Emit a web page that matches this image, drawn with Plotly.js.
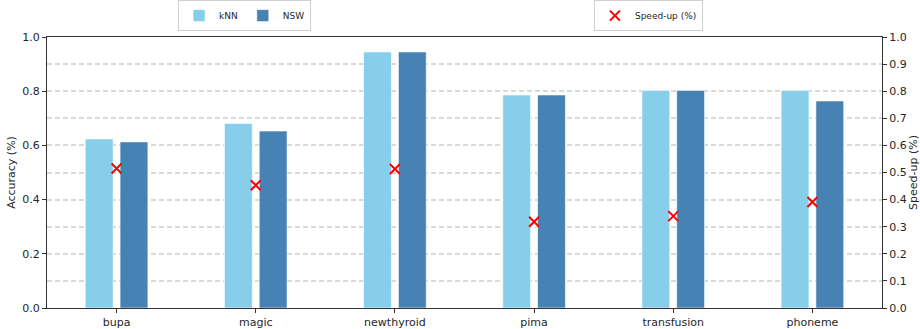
<!DOCTYPE html>
<html>
<head>
<meta charset="utf-8">
<script src="https://cdn.plot.ly/plotly-3.0.1.min.js"></script>
<style>
  html, body { margin: 0; padding: 0; background: #fff; }
  #chart { width: 920px; height: 329px; }
</style>
</head>
<body>
<div id="chart"></div>
<script>
// Datasets compared
const datasets = ['bupa', 'magic', 'newthyroid', 'pima', 'transfusion', 'phoneme'];

// Classification accuracy per dataset
const knnAccuracy = [0.624, 0.681, 0.945, 0.786, 0.803, 0.803];
const nswAccuracy = [0.613, 0.653, 0.945, 0.786, 0.803, 0.764];

// Speed-up of NSW over kNN
const speedUp = [0.515, 0.453, 0.513, 0.318, 0.339, 0.391];

const font = 'DejaVu Sans, sans-serif';
const ink = '#262626';

const traces = [
  {
    type: 'bar', name: 'kNN', x: datasets, y: knnAccuracy,
    width: 0.2, offset: -0.225,
    marker: { color: '#87CEEB', line: { color: '#ffffff', width: 0.6 } },
    legend: 'legend'
  },
  {
    type: 'bar', name: 'NSW', x: datasets, y: nswAccuracy,
    width: 0.2, offset: 0.025,
    marker: { color: '#4682B4', line: { color: '#ffffff', width: 0.6 } },
    legend: 'legend'
  },
  {
    type: 'scatter', mode: 'markers', name: 'Speed-up (%)',
    x: datasets, y: speedUp, yaxis: 'y2',
    marker: { symbol: 'x-thin', size: 10, color: 'red', line: { color: 'red', width: 2 } },
    legend: 'legend2'
  }
];

const layout = {
  width: 920, height: 329,
  margin: { l: 47, r: 38, t: 37, b: 21, autoexpand: false },
  paper_bgcolor: '#ffffff', plot_bgcolor: '#ffffff',
  font: { family: font, size: 11, color: ink },
  barmode: 'overlay',
  showlegend: true,
  xaxis: {
    type: 'category', range: [-0.5, 5.5],
    showline: true, linecolor: '#333', linewidth: 1, mirror: true,
    ticks: 'outside', ticklen: 4, tickcolor: '#333',
    showgrid: false, zeroline: false,
    tickfont: { size: 11, color: ink }
  },
  yaxis: {
    range: [0, 1], dtick: 0.2, tickformat: '.1f',
    showline: true, linecolor: '#333', linewidth: 1,
    ticks: 'outside', ticklen: 4, tickcolor: '#333',
    showgrid: false, zeroline: false,
    tickfont: { size: 11, color: ink },
    title: { text: 'Accuracy (%)', standoff: 4, font: { size: 11, color: ink } }
  },
  yaxis2: {
    overlaying: 'y', side: 'right',
    range: [0, 1], dtick: 0.1, tickformat: '.1f',
    showline: true, linecolor: '#333', linewidth: 1,
    ticks: 'outside', ticklen: 4, tickcolor: '#333',
    showgrid: true, gridcolor: '#d9d9d9', gridwidth: 2, griddash: '5px,3px',
    zeroline: false,
    tickfont: { size: 11, color: ink },
    title: { text: 'Speed-up (%)', standoff: 6, font: { size: 11, color: ink } }
  },
  legend: {
    orientation: 'h', x: 0.157, y: 1.079, xanchor: 'left', yanchor: 'middle',
    bordercolor: '#d0d0d0', borderwidth: 1, bgcolor: '#ffffff',
    font: { size: 9, color: ink }, itemwidth: 30
  },
  legend2: {
    orientation: 'h', x: 0.655, y: 1.079, xanchor: 'left', yanchor: 'middle',
    bordercolor: '#d0d0d0', borderwidth: 1, bgcolor: '#ffffff',
    font: { size: 9, color: ink }, itemwidth: 30
  }
};

Plotly.newPlot('chart', traces, layout, { displayModeBar: false, staticPlot: true });
</script>
</body>
</html>
